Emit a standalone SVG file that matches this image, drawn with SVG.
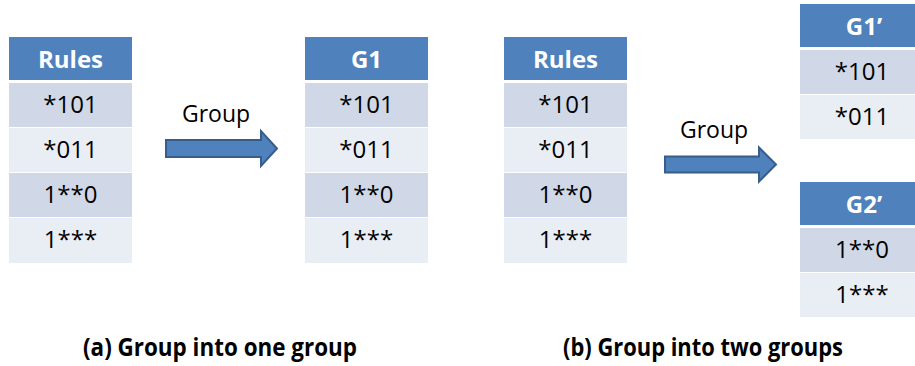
<svg xmlns="http://www.w3.org/2000/svg" width="915" height="366" viewBox="0 0 915 366">
  <style>
    .hdr { fill: #4F81BD; }
    .odd { fill: #D0D8E8; }
    .even { fill: #E9EDF4; }
    .htxt { font-family: "Open Sans", "Liberation Sans", sans-serif; font-weight: bold; font-size: 24px; fill: #FFFFFF; text-anchor: middle; }
    .ctxt { font-family: "Open Sans", "Liberation Sans", sans-serif; font-size: 24px; fill: #000000; text-anchor: middle; }
    .lbl { font-family: "Open Sans", "Liberation Sans", sans-serif; font-size: 23px; fill: #000000; }
    .cap { font-family: "Open Sans", "Liberation Sans", sans-serif; font-weight: bold; font-size: 25px; fill: #000000; }
    .arrow { fill: #4F81BD; stroke: #385D8A; stroke-width: 2; stroke-linejoin: miter; }
  </style>

  <!-- (a) source rule table -->
  <g id="rules-a">
    <rect class="hdr" x="9" y="37" width="123" height="43"/>
    <rect class="odd" x="9" y="83" width="123" height="44"/>
    <rect class="even" x="9" y="128" width="123" height="44"/>
    <rect class="odd" x="9" y="173" width="123" height="44"/>
    <rect class="even" x="9" y="218" width="123" height="45"/>
    <text class="htxt" x="70.5" y="68">Rules</text>
    <text class="ctxt" x="70.5" y="113">*101</text>
    <text class="ctxt" x="70.5" y="158">*011</text>
    <text class="ctxt" x="70.5" y="203">1**0</text>
    <text class="ctxt" x="70.5" y="248">1***</text>
  </g>

  <!-- (a) single resulting group -->
  <g id="g1">
    <rect class="hdr" x="305" y="37" width="123" height="43"/>
    <rect class="odd" x="305" y="83" width="123" height="44"/>
    <rect class="even" x="305" y="128" width="123" height="44"/>
    <rect class="odd" x="305" y="173" width="123" height="44"/>
    <rect class="even" x="305" y="218" width="123" height="45"/>
    <text class="htxt" x="366.5" y="68">G1</text>
    <text class="ctxt" x="366.5" y="113">*101</text>
    <text class="ctxt" x="366.5" y="158">*011</text>
    <text class="ctxt" x="366.5" y="203">1**0</text>
    <text class="ctxt" x="366.5" y="248">1***</text>
  </g>

  <!-- (b) source rule table -->
  <g id="rules-b">
    <rect class="hdr" x="504" y="37" width="123" height="43"/>
    <rect class="odd" x="504" y="83" width="123" height="44"/>
    <rect class="even" x="504" y="128" width="123" height="44"/>
    <rect class="odd" x="504" y="173" width="123" height="44"/>
    <rect class="even" x="504" y="218" width="123" height="45"/>
    <text class="htxt" x="565.5" y="68">Rules</text>
    <text class="ctxt" x="565.5" y="113">*101</text>
    <text class="ctxt" x="565.5" y="158">*011</text>
    <text class="ctxt" x="565.5" y="203">1**0</text>
    <text class="ctxt" x="565.5" y="248">1***</text>
  </g>

  <!-- (b) first group -->
  <g id="g1-prime">
    <rect class="hdr" x="800" y="4" width="123" height="43"/>
    <rect class="odd" x="800" y="50" width="123" height="44"/>
    <rect class="even" x="800" y="95" width="123" height="44"/>
    <text class="htxt" x="864" y="35">G1’</text>
    <text class="ctxt" x="862" y="80">*101</text>
    <text class="ctxt" x="862" y="125">*011</text>
  </g>

  <!-- (b) second group -->
  <g id="g2-prime">
    <rect class="hdr" x="800" y="182" width="123" height="43"/>
    <rect class="odd" x="800" y="228" width="123" height="44"/>
    <rect class="even" x="800" y="273" width="123" height="44"/>
    <text class="htxt" x="864" y="213">G2’</text>
    <text class="ctxt" x="862" y="258">1**0</text>
    <text class="ctxt" x="862" y="303">1***</text>
  </g>

  <!-- grouping arrows -->
  <g id="connectors">
    <polygon class="arrow" points="166,140 261,140 261,131 277,148.5 261,166 261,157 166,157"/>
    <text class="lbl" x="182" y="122">Group</text>
    <polygon class="arrow" points="665,156.5 759,156.5 759,147.5 776,164.5 759,181.5 759,172.5 665,172.5"/>
    <text class="lbl" x="680" y="138">Group</text>
  </g>

  <!-- captions -->
  <text class="cap" x="83" y="356" textLength="274" lengthAdjust="spacingAndGlyphs">(a) Group into one group</text>
  <text class="cap" x="563" y="356" textLength="280" lengthAdjust="spacingAndGlyphs">(b) Group into two groups</text>
</svg>
